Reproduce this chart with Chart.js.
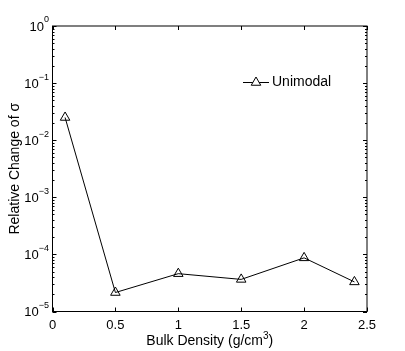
<!DOCTYPE html>
<html>
<head>
<meta charset="utf-8">
<script src="https://cdn.jsdelivr.net/npm/chart.js@4"></script>
<style>
  html, body { margin: 0; padding: 0; background: #fff; }
  #wrap { width: 405px; height: 351px; }
</style>
</head>
<body>
<div id="wrap"><canvas id="c" width="405" height="351"></canvas></div>
<script>
// Relative change of sigma vs bulk density (log y)
const density   = [0.1, 0.5, 1.0, 1.5, 2.0, 2.4];
const unimodal  = [2.5e-2, 2.15e-5, 4.6e-5, 3.65e-5, 8.7e-5, 3.3e-5];
const xTicks    = [0, 0.5, 1, 1.5, 2, 2.5];
const yExps     = [0, -1, -2, -3, -4, -5];
const seriesName = "Unimodal";

const FONT = "'Liberation Sans', Arial, Helvetica, sans-serif";
const PLOT = { left: 52.5, top: 26, right: 367, bottom: 311.5 };

const frame = {
  id: "frame",
  afterDraw(chart) {
    const ctx = chart.ctx;
    const xs = chart.scales.x, ys = chart.scales.y;
    const a = chart.chartArea;
    ctx.save();
    ctx.strokeStyle = "#000";
    ctx.lineWidth = 1;
    ctx.strokeRect(a.left, a.top, a.right - a.left, a.bottom - a.top);

    // x ticks, bottom and top, pointing inwards
    ctx.beginPath();
    xTicks.forEach(v => {
      const px = Math.round(xs.getPixelForValue(v)) + 0.5;
      ctx.moveTo(px, a.bottom); ctx.lineTo(px, a.bottom - 4);
      ctx.moveTo(px, a.top); ctx.lineTo(px, a.top + 4);
    });
    // y major and minor ticks, left and right
    yExps.forEach(e => {
      const py = Math.round(ys.getPixelForValue(Math.pow(10, e))) + 0.5;
      ctx.moveTo(a.left, py); ctx.lineTo(a.left + 4, py);
      ctx.moveTo(a.right, py); ctx.lineTo(a.right - 4, py);
      if (e < 0) {
        for (let m = 2; m <= 9; m++) {
          const my = Math.round(ys.getPixelForValue(m * Math.pow(10, e))) + 0.5;
          ctx.moveTo(a.left, my); ctx.lineTo(a.left + 2, my);
          ctx.moveTo(a.right, my); ctx.lineTo(a.right - 2, my);
        }
      }
    });
    ctx.stroke();

    // y tick labels 10^e
    ctx.fillStyle = "#000";
    ctx.textBaseline = "middle";
    yExps.forEach(e => {
      const py = ys.getPixelForValue(Math.pow(10, e));
      const sup = e === 0 ? "0" : "\u2212" + Math.abs(e);
      ctx.font = "9px " + FONT;
      const sw = ctx.measureText(sup).width;
      const supRight = 49;
      ctx.textAlign = "left";
      ctx.fillText(sup, supRight - sw, py - 6);
      ctx.font = "13px " + FONT;
      ctx.textAlign = "right";
      ctx.fillText("10", supRight - sw, py + 1);
    });

    // x axis title with superscript
    const cx = (a.left + a.right) / 2;
    ctx.textBaseline = "alphabetic";
    ctx.textAlign = "left";
    ctx.font = "14px " + FONT;
    const t1 = "Bulk Density (g/cm", t3 = ")";
    const w1 = ctx.measureText(t1).width, w3 = ctx.measureText(t3).width;
    ctx.font = "10px " + FONT;
    const w2 = ctx.measureText("3").width;
    let x0 = cx - (w1 + w2 + w3) / 2;
    const by = 345;
    ctx.font = "14px " + FONT;
    ctx.fillText(t1, x0, by);
    ctx.font = "10px " + FONT;
    ctx.fillText("3", x0 + w1, by - 6);
    ctx.font = "14px " + FONT;
    ctx.fillText(t3, x0 + w1 + w2, by);

    // y axis title
    ctx.save();
    ctx.translate(15, (a.top + a.bottom) / 2);
    ctx.rotate(-Math.PI / 2);
    ctx.textAlign = "center";
    ctx.textBaseline = "middle";
    ctx.font = "14px " + FONT;
    ctx.fillText("Relative Change of \u03c3", 0, 0);
    ctx.restore();

    // legend
    const ly = 82.5;
    ctx.beginPath();
    ctx.moveTo(243, ly); ctx.lineTo(269, ly);
    ctx.stroke();
    const r = 5.5, tx = 256;
    ctx.beginPath();
    ctx.moveTo(tx, ly - r);
    ctx.lineTo(tx + r * 0.866, ly + r / 2);
    ctx.lineTo(tx - r * 0.866, ly + r / 2);
    ctx.closePath();
    ctx.fillStyle = "#fff";
    ctx.fill();
    ctx.stroke();
    ctx.fillStyle = "#000";
    ctx.font = "14px " + FONT;
    ctx.textAlign = "left";
    ctx.textBaseline = "middle";
    ctx.fillText(seriesName, 272, ly);
    ctx.restore();
  }
};

new Chart(document.getElementById("c"), {
  type: "scatter",
  data: {
    datasets: [{
      label: seriesName,
      data: density.map((d, i) => ({ x: d, y: unimodal[i] })),
      showLine: true,
      borderColor: "#000",
      borderWidth: 1,
      pointStyle: "triangle",
      pointRadius: 5.5,
      pointBackgroundColor: "rgba(255,255,255,0)",
      pointBorderColor: "#000",
      pointBorderWidth: 1,
    }]
  },
  options: {
    responsive: false,
    animation: false,
    devicePixelRatio: 1,
    layout: { padding: { left: 0, top: PLOT.top, right: 405 - PLOT.right, bottom: 0 } },
    plugins: { legend: { display: false }, tooltip: { enabled: false } },
    scales: {
      x: {
        type: "linear", min: 0, max: 2.5,
        grid: { display: false, drawTicks: false },
        border: { display: false },
        ticks: { stepSize: 0.5, color: "#000", font: { family: FONT, size: 13 }, padding: 6, maxRotation: 0,
                 callback: v => String(v) },
        afterFit: s => { s.height = 351 - PLOT.bottom; },
      },
      y: {
        type: "logarithmic", min: 1e-5, max: 1,
        grid: { display: false, drawTicks: false },
        border: { display: false },
        ticks: { display: false },
        afterFit: s => { s.width = PLOT.left; },
      }
    }
  },
  plugins: [frame]
});
</script>
</body>
</html>
